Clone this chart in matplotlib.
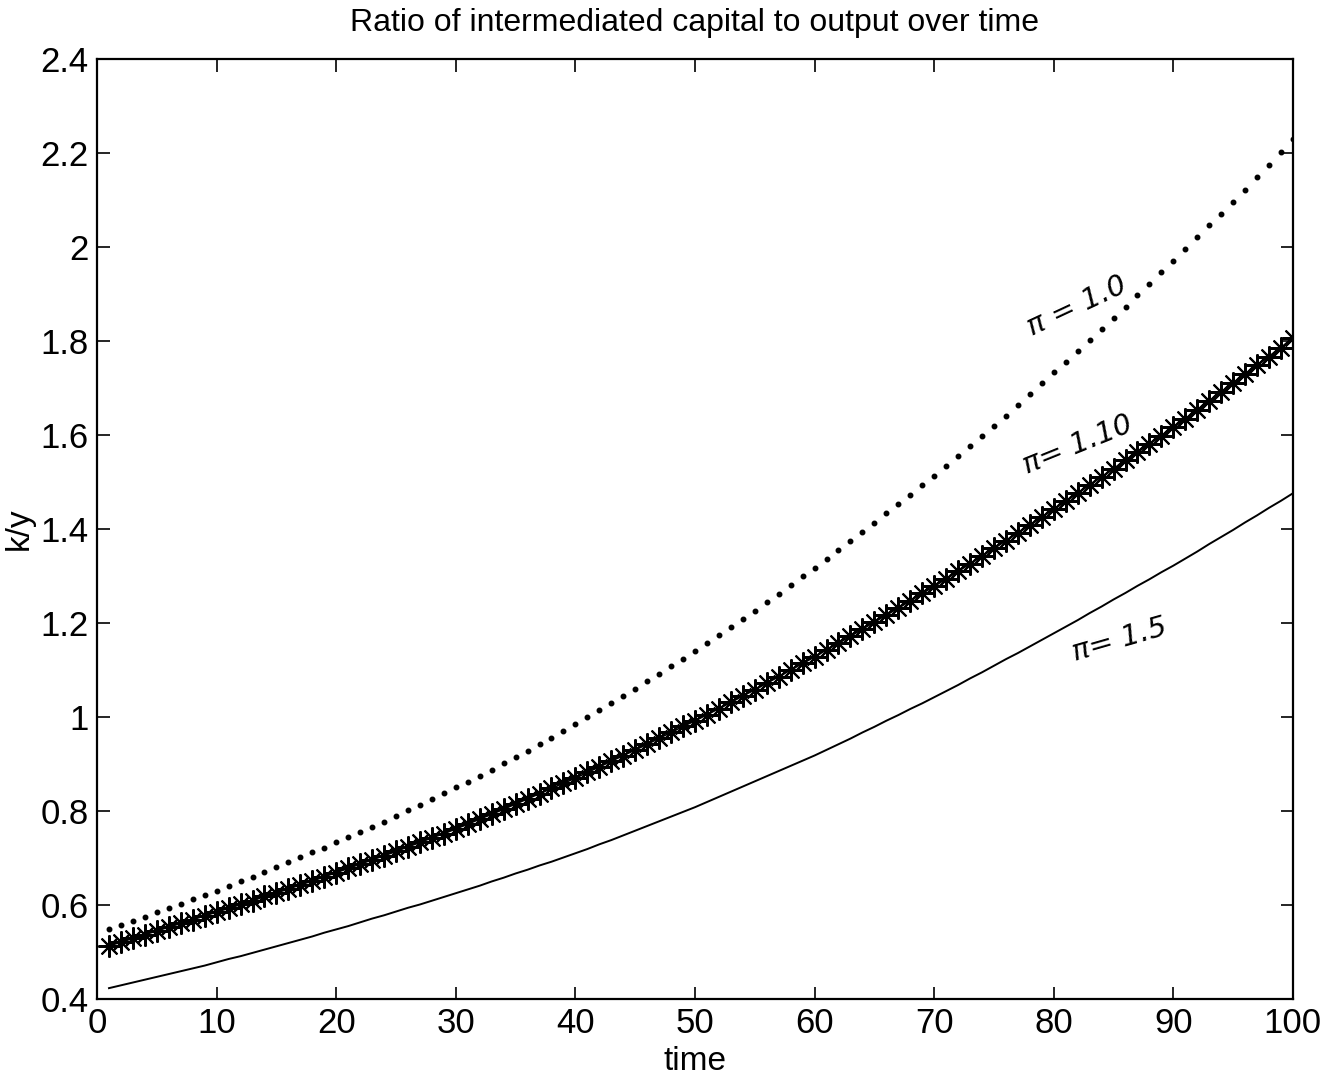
import matplotlib.pyplot as plt

# time steps 1..100
time = list(range(1, 101))

# pi = 1.0 (dotted)
ky_pi10 = [0.548, 0.557, 0.566, 0.575, 0.584, 0.593, 0.602, 0.612, 0.621, 0.630,
           0.640, 0.650, 0.660, 0.670, 0.680, 0.691, 0.701, 0.712, 0.722, 0.733,
           0.744, 0.755, 0.766, 0.777, 0.789, 0.801, 0.813, 0.825, 0.838, 0.850,
           0.862, 0.875, 0.888, 0.901, 0.915, 0.928, 0.942, 0.956, 0.970, 0.985,
           0.999, 1.014, 1.029, 1.044, 1.060, 1.076, 1.092, 1.108, 1.124, 1.141,
           1.158, 1.175, 1.192, 1.209, 1.226, 1.244, 1.262, 1.280, 1.299, 1.318,
           1.337, 1.356, 1.375, 1.394, 1.413, 1.433, 1.453, 1.473, 1.493, 1.513,
           1.534, 1.555, 1.577, 1.598, 1.620, 1.641, 1.664, 1.687, 1.710, 1.733,
           1.756, 1.779, 1.802, 1.825, 1.849, 1.873, 1.898, 1.922, 1.946, 1.971,
           1.996, 2.021, 2.046, 2.071, 2.096, 2.122, 2.148, 2.175, 2.203, 2.230]

# pi = 1.10 (asterisks)
ky_pi110 = [0.513, 0.521, 0.529, 0.537, 0.545, 0.553, 0.561, 0.569, 0.577, 0.585,
            0.593, 0.601, 0.609, 0.618, 0.626, 0.634, 0.643, 0.651, 0.660, 0.669,
            0.678, 0.687, 0.696, 0.705, 0.714, 0.724, 0.733, 0.743, 0.752, 0.762,
            0.772, 0.783, 0.793, 0.804, 0.815, 0.826, 0.837, 0.848, 0.859, 0.870,
            0.882, 0.894, 0.906, 0.918, 0.930, 0.942, 0.955, 0.967, 0.980, 0.992,
            1.005, 1.018, 1.031, 1.045, 1.058, 1.072, 1.086, 1.100, 1.114, 1.128,
            1.143, 1.157, 1.172, 1.187, 1.202, 1.217, 1.232, 1.247, 1.263, 1.278,
            1.294, 1.310, 1.326, 1.342, 1.359, 1.375, 1.392, 1.408, 1.425, 1.442,
            1.459, 1.476, 1.494, 1.511, 1.528, 1.546, 1.563, 1.581, 1.598, 1.616,
            1.634, 1.653, 1.672, 1.691, 1.710, 1.729, 1.748, 1.767, 1.786, 1.806]

# pi = 1.5 (solid)
ky_pi15 = [0.423, 0.429, 0.435, 0.441, 0.447, 0.453, 0.459, 0.465, 0.471, 0.478,
           0.485, 0.491, 0.498, 0.505, 0.512, 0.519, 0.526, 0.533, 0.541, 0.548,
           0.555, 0.563, 0.571, 0.578, 0.586, 0.594, 0.601, 0.609, 0.617, 0.625,
           0.633, 0.641, 0.650, 0.658, 0.667, 0.675, 0.684, 0.692, 0.701, 0.710,
           0.719, 0.729, 0.738, 0.748, 0.758, 0.768, 0.778, 0.788, 0.798, 0.808,
           0.819, 0.830, 0.841, 0.852, 0.863, 0.874, 0.885, 0.896, 0.907, 0.918,
           0.930, 0.942, 0.954, 0.967, 0.979, 0.992, 1.004, 1.017, 1.029, 1.042,
           1.055, 1.068, 1.082, 1.095, 1.109, 1.123, 1.136, 1.150, 1.164, 1.178,
           1.192, 1.206, 1.221, 1.235, 1.250, 1.264, 1.279, 1.293, 1.308, 1.322,
           1.337, 1.352, 1.368, 1.383, 1.398, 1.414, 1.429, 1.445, 1.460, 1.476]

xticks = [0, 10, 20, 30, 40, 50, 60, 70, 80, 90, 100]
yticks = [0.4, 0.6, 0.8, 1.0, 1.2, 1.4, 1.6, 1.8, 2.0, 2.2, 2.4]
ytick_labels = ['0.4', '0.6', '0.8', '1', '1.2', '1.4', '1.6', '1.8', '2', '2.2', '2.4']

plt.rcParams['font.family'] = ['Liberation Sans', 'DejaVu Sans']

fig = plt.figure(figsize=(13.44, 10.81), dpi=100)
ax = fig.add_axes([0.0722, 0.0759, 0.8898, 0.8695])

ax.plot(time, ky_pi10, '.', color='k', markersize=6.5)
ax.plot(time, ky_pi110, '-', color='k', linewidth=1.3,
        marker=(8, 2, 0), markersize=16, markeredgewidth=1.5)
ax.plot(time, ky_pi15, '-', color='k', linewidth=1.4)

# handwritten labels
ax.text(81.9, 1.875, 'π = 1.0', fontsize=21, style='italic', rotation=25,
        ha='center', va='center', family=['DejaVu Sans'])
ax.text(82.0, 1.58, 'π= 1.10', fontsize=21, style='italic', rotation=22,
        ha='center', va='center', family=['DejaVu Sans'])
ax.text(85.5, 1.165, 'π= 1.5', fontsize=21, style='italic', rotation=16,
        ha='center', va='center', family=['DejaVu Sans'])

ax.set_xlim(0, 100)
ax.set_ylim(0.4, 2.4)
ax.set_xticks(xticks)
ax.set_yticks(yticks)
ax.set_yticklabels(ytick_labels)
ax.tick_params(direction='in', length=9, width=1.2, top=True, right=True,
               labelsize=25, pad=6)
for s in ax.spines.values():
    s.set_linewidth(1.6)

ax.set_xlabel('time', fontsize=24, labelpad=4)
ax.set_ylabel('k/y', fontsize=24, labelpad=4)
ax.set_title('Ratio of intermediated capital to output over time', fontsize=23, pad=20)

fig.savefig('out.png', dpi=100)
